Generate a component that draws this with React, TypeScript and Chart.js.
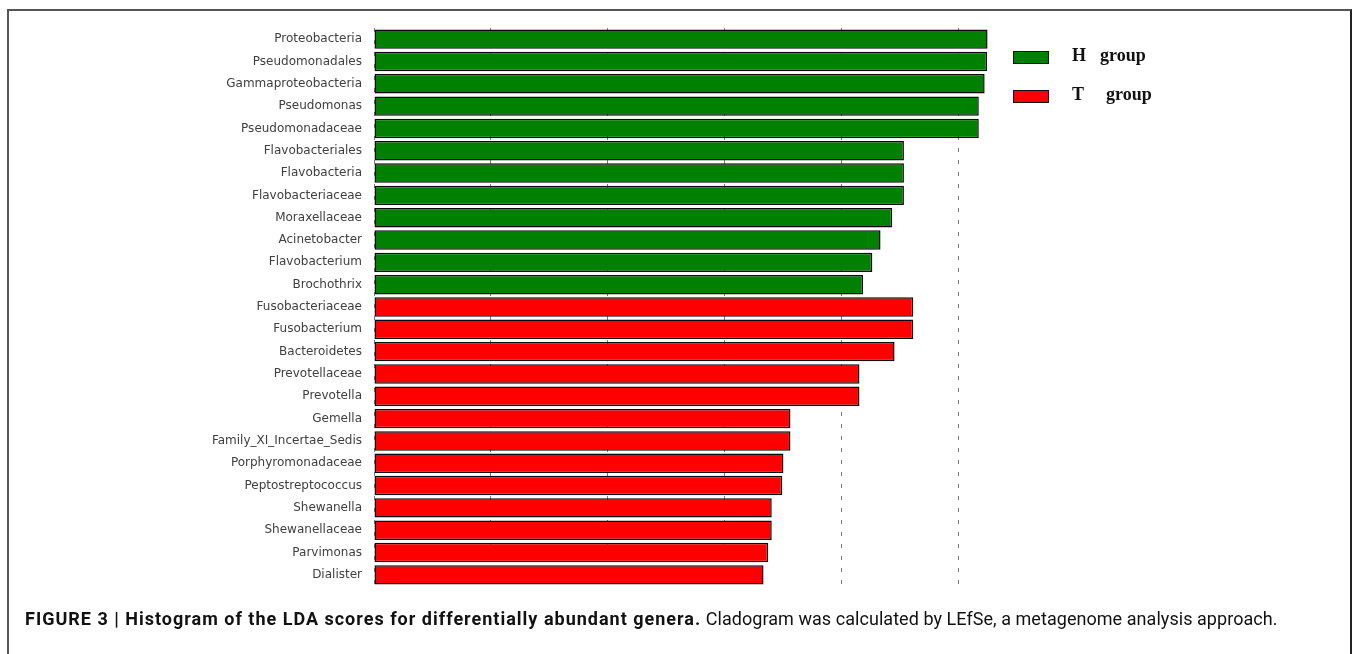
import React, { useEffect, useRef } from 'react';
import { Chart, registerables } from 'chart.js';

Chart.register(...registerables);

const categories = [
  'Proteobacteria',
  'Pseudomonadales',
  'Gammaproteobacteria',
  'Pseudomonas',
  'Pseudomonadaceae',
  'Flavobacteriales',
  'Flavobacteria',
  'Flavobacteriaceae',
  'Moraxellaceae',
  'Acinetobacter',
  'Flavobacterium',
  'Brochothrix',
  'Fusobacteriaceae',
  'Fusobacterium',
  'Bacteroidetes',
  'Prevotellaceae',
  'Prevotella',
  'Gemella',
  'Family_XI_Incertae_Sedis',
  'Porphyromonadaceae',
  'Peptostreptococcus',
  'Shewanella',
  'Shewanellaceae',
  'Parvimonas',
  'Dialister',
];

const ldaScores = [
  5.245, 5.24, 5.22, 5.17, 5.17, 4.53, 4.53, 4.53, 4.43, 4.33, 4.26, 4.18,
  4.61, 4.61, 4.45, 4.15, 4.15, 3.56, 3.56, 3.5, 3.49, 3.4, 3.4, 3.37, 3.33,
];

const groups = [
  'H', 'H', 'H', 'H', 'H', 'H', 'H', 'H', 'H', 'H', 'H', 'H',
  'T', 'T', 'T', 'T', 'T', 'T', 'T', 'T', 'T', 'T', 'T', 'T', 'T',
];

const groupColors: Record<string, string> = { H: '#008000', T: '#ff0000' };
const legendGroups = ['H', 'T'];
const legendWord = 'group';

const xMin = 0;
const xMax = 5.3;
const xStep = 1;

const captionBold = 'FIGURE 3 | Histogram of the LDA scores for differentially abundant genera.';
const captionRest = ' Cladogram was calculated by LEfSe, a metagenome analysis approach.';

export default function App() {
  const canvasRef = useRef<HTMLCanvasElement>(null);

  useEffect(() => {
    const chart = new Chart(canvasRef.current!, {
      type: 'bar',
      data: {
        labels: categories,
        datasets: [
          {
            data: ldaScores,
            backgroundColor: groups.map((g) => groupColors[g]),
            borderColor: '#0a0a0a',
            borderWidth: 1.5,
            borderSkipped: false,
            categoryPercentage: 1,
            barPercentage: 0.87,
          },
        ],
      },
      options: {
        indexAxis: 'y',
        responsive: false,
        animation: false,
        layout: { padding: { top: 28, bottom: 68, right: 362, left: 0 } },
        plugins: { legend: { display: false }, tooltip: { enabled: false } },
        scales: {
          x: {
            min: xMin,
            max: xMax,
            z: 1,
            ticks: { display: false, stepSize: xStep },
            grid: {
              drawTicks: false,
              lineWidth: 1,
              color: (ctx: any) =>
                ctx.tick && Number.isInteger(ctx.tick.value)
                  ? 'rgba(70,70,70,0.7)'
                  : 'rgba(0,0,0,0)',
            },
            border: { display: false, dash: [4, 8] },
            afterFit: (s: any) => {
              s.height = 0;
            },
          },
          y: {
            grid: { display: false, drawTicks: false },
            border: { display: false },
            ticks: {
              padding: 12,
              color: '#404040',
              autoSkip: false,
              font: { family: 'DejaVu Sans', size: 12 },
            },
            afterFit: (s: any) => {
              s.width = 374;
            },
          },
        },
      },
    });
    return () => chart.destroy();
  }, []);

  const legendTops = [46, 85];
  const wordLefts = [1100, 1106];

  return (
    <div style={{ position: 'absolute', left: 0, top: 0, width: 1356, height: 654, overflow: 'hidden', background: '#fff' }}>
      <div
        style={{
          position: 'absolute',
          left: 7,
          top: 9,
          width: 1345,
          height: 700,
          boxSizing: 'border-box',
          borderLeft: '2px solid #555',
          borderTop: '2px solid #555',
          borderRight: '2px solid #222',
        }}
      />
      <canvas
        ref={canvasRef}
        width={1356}
        height={654}
        style={{ position: 'absolute', left: 0, top: 0, display: 'block' }}
      />
      {legendGroups.map((g, i) => (
        <React.Fragment key={g}>
          <div
            style={{
              position: 'absolute',
              left: 1013,
              top: legendTops[i] + 5,
              width: 36,
              height: 13,
              boxSizing: 'border-box',
              border: '1px solid #111',
              background: groupColors[g],
            }}
          />
          <span
            style={{
              position: 'absolute',
              left: 1072,
              top: legendTops[i],
              fontFamily: '"Liberation Serif", "Times New Roman", serif',
              fontWeight: 'bold',
              fontSize: 18,
              lineHeight: '18px',
              color: '#111',
            }}
          >
            {g}
          </span>
          <span
            style={{
              position: 'absolute',
              left: wordLefts[i],
              top: legendTops[i],
              fontFamily: '"Liberation Serif", "Times New Roman", serif',
              fontWeight: 'bold',
              fontSize: 18,
              lineHeight: '18px',
              color: '#111',
            }}
          >
            {legendWord}
          </span>
        </React.Fragment>
      ))}
      <div
        style={{
          position: 'absolute',
          left: 25,
          top: 608,
          whiteSpace: 'nowrap',
          fontFamily: 'Roboto, "Liberation Sans", sans-serif',
          fontSize: 18,
          lineHeight: '22px',
          color: '#111',
        }}
      >
        <b style={{ letterSpacing: '1px' }}>{captionBold}</b>
        <span style={{ letterSpacing: '0.05px' }}>{captionRest}</span>
      </div>
    </div>
  );
}
